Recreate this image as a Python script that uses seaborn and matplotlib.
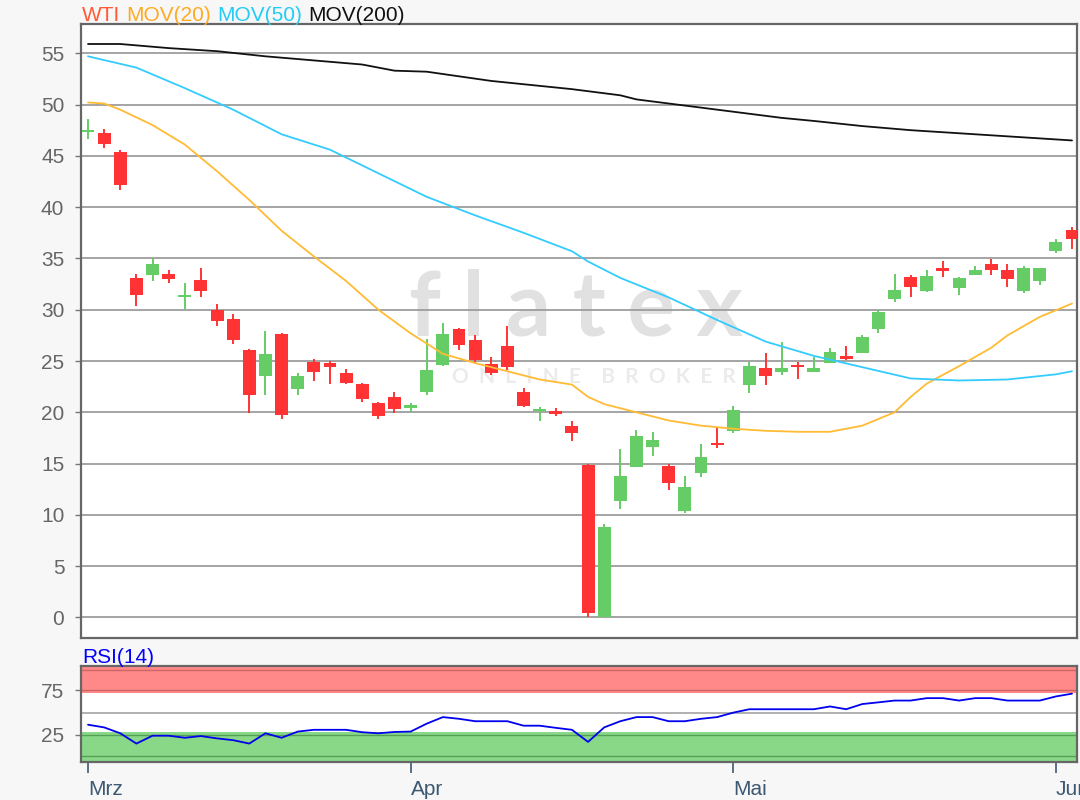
import matplotlib
matplotlib.use("Agg")
from matplotlib import pyplot as plt
import seaborn as sns
import pandas as pd

# candles, one per trading day (index 0 = first day of March)
opens = [47.3, 47.2, 45.4, 33.1, 33.4, 33.5, 31.2, 32.9, 30.0, 29.1,
         26.1, 23.5, 27.6, 22.3, 24.9, 24.8, 23.8, 22.8, 20.9, 21.5,
         20.4, 22.0, 24.6, 28.1, 27.0, 24.7, 26.5, 22.0, 20.1, 20.1,
         18.7, 14.9, 0.0, 11.4, 14.7, 16.6, 14.8, 10.4, 14.1, 17.0,
         18.2, 22.7, 24.3, 23.9, 24.6, 23.9, 24.8, 25.5, 25.8, 28.1,
         31.0, 33.2, 31.8, 34.1, 32.1, 33.4, 34.5, 33.9, 31.8, 32.8,
         35.7, 37.8]
highs = [48.6, 47.6, 45.6, 33.5, 35.0, 33.9, 32.6, 34.1, 30.6, 29.6,
         26.2, 27.9, 27.7, 23.8, 25.2, 25.0, 24.2, 22.9, 21.0, 22.0,
         20.9, 27.1, 28.7, 28.2, 27.5, 25.4, 28.4, 22.4, 20.5, 20.4,
         19.2, 15.0, 9.1, 16.4, 18.3, 18.1, 15.0, 13.8, 16.9, 18.6,
         20.6, 24.9, 25.8, 26.9, 24.9, 25.4, 26.3, 26.5, 27.5, 30.0,
         33.5, 33.4, 33.9, 34.7, 33.2, 34.3, 34.9, 34.5, 34.3, 34.1,
         36.9, 38.1]
lows = [46.6, 45.8, 41.7, 30.4, 32.8, 32.6, 30.1, 31.2, 28.4, 26.7,
        19.9, 21.7, 19.3, 21.7, 23.1, 22.8, 22.8, 21.0, 19.3, 19.9,
        20.0, 21.7, 24.5, 26.1, 24.8, 23.6, 24.1, 20.5, 19.2, 19.6,
        17.2, 0.0, 0.0, 10.6, 14.7, 15.7, 12.4, 10.2, 13.7, 16.5,
        18.0, 21.9, 22.7, 23.6, 23.2, 23.9, 24.8, 25.1, 25.8, 27.7,
        30.8, 31.2, 31.7, 33.2, 31.4, 33.4, 33.4, 32.2, 31.6, 32.4,
        35.5, 35.9]
closes = [47.5, 46.2, 42.2, 31.4, 34.5, 33.0, 31.4, 31.8, 28.9, 27.0,
          21.7, 25.7, 19.7, 23.5, 23.9, 24.4, 22.9, 21.3, 19.6, 20.3,
          20.7, 24.1, 27.6, 26.6, 25.1, 23.8, 24.4, 20.6, 20.3, 19.8,
          18.0, 0.4, 8.8, 13.8, 17.7, 17.3, 13.1, 12.7, 15.6, 16.8,
          20.2, 24.5, 23.5, 24.3, 24.4, 24.3, 25.9, 25.2, 27.3, 29.8,
          31.9, 32.2, 33.3, 33.8, 33.1, 33.9, 33.9, 33.0, 34.1, 34.1,
          36.6, 36.9]

# moving averages at some of the days
ma20_day = [0, 1, 2, 4, 6, 8, 10, 12, 14, 16, 18, 20, 22, 24, 26, 28, 30, 31,
            32, 34, 36, 38, 40, 42, 44, 46, 48, 50, 51, 52, 54, 56, 57, 59, 61]
ma20 = [50.2, 50.1, 49.5, 48.0, 46.1, 43.5, 40.7, 37.7, 35.2, 32.8, 30.0, 27.7,
        25.7, 24.8, 24.0, 23.2, 22.7, 21.5, 20.8, 20.0, 19.2, 18.7, 18.4, 18.2,
        18.1, 18.1, 18.7, 20.0, 21.5, 22.8, 24.5, 26.3, 27.5, 29.3, 30.6]
ma50_day = [0, 3, 6, 9, 12, 15, 18, 21, 24, 27, 30, 31, 33, 36, 39, 42, 45,
            48, 51, 54, 57, 60, 61]
ma50 = [54.7, 53.6, 51.6, 49.5, 47.1, 45.6, 43.3, 41.0, 39.2, 37.5, 35.7, 34.7,
        33.1, 31.2, 29.0, 26.9, 25.5, 24.4, 23.3, 23.1, 23.2, 23.7, 24.0]
ma200_day = [0, 2, 5, 8, 11, 14, 17, 19, 21, 25, 30, 33, 34, 37, 40, 43, 45,
             48, 51, 54, 57, 61]
ma200 = [55.9, 55.9, 55.5, 55.2, 54.7, 54.3, 53.9, 53.3, 53.2, 52.3, 51.5, 50.9,
         50.5, 49.9, 49.3, 48.7, 48.4, 47.9, 47.5, 47.2, 46.9, 46.5]

rsi = [36.5, 33.5, 26.9, 15.4, 24.2, 24.2, 21.9, 23.8, 21.2, 19.2,
       15.4, 26.9, 21.9, 28.8, 30.8, 30.8, 30.8, 28.1, 26.9, 28.4,
       28.8, 37.7, 45.0, 43.1, 40.4, 40.4, 40.4, 35.4, 35.4, 33.0,
       30.8, 17.3, 33.5, 40.4, 45.0, 45.0, 40.4, 40.4, 43.1, 45.0,
       50.0, 53.8, 53.8, 53.8, 53.8, 53.8, 56.9, 53.8, 59.6, 61.5,
       63.5, 63.5, 66.2, 66.2, 63.5, 66.2, 66.2, 63.5, 63.5, 63.5,
       68.1, 71.2]

month_days = [0, 20, 40, 60]
month_labels = ["Mrz", "Apr", "Mai", "Jun"]
price_ticks = list(range(0, 60, 5))

UP = "#66cc66"
DOWN = "#ff3333"
TEXT_FONT = ["Liberation Sans", "DejaVu Sans"]

sns.set_style("white")
plt.rcParams["font.family"] = TEXT_FONT

df = pd.DataFrame({"open": opens, "high": highs, "low": lows, "close": closes})
df["day"] = range(len(df))
df["up"] = df["close"] >= df["open"]
df["color"] = df["up"].map({True: UP, False: DOWN})

fig = plt.figure(figsize=(10.8, 8), dpi=100, facecolor="#f7f7f7")
ax = fig.add_axes([81 / 1080, 1 - 637.6 / 800, 996 / 1080, 613.6 / 800])
ax_rsi = fig.add_axes([81 / 1080, 1 - 762 / 800, 996 / 1080, 96.5 / 800], sharex=ax)

# watermark, sits under the grid
ax.text(0.497, 0.535, "f l a t e x", transform=ax.transAxes, fontsize=64,
        family=["Lato", "DejaVu Sans"], fontweight="bold", color="#e1e1e1",
        ha="center", va="center", zorder=0.1)
ax.text(0.515, 0.425, "O  N  L  I  N  E    B  R  O  K  E  R", transform=ax.transAxes,
        fontsize=15, family=["Lato", "DejaVu Sans"], fontweight="bold",
        color="#ebebeb", ha="center", va="center", zorder=0.1)

# candles
ax.vlines(df["day"], df["low"], df["high"], colors=df["color"], lw=1.4, zorder=3)
body = (df["close"] - df["open"]).abs().clip(lower=0.15)
ax.bar(df["day"], body, bottom=df[["open", "close"]].min(axis=1), width=0.8,
       color=df["color"], linewidth=0, zorder=3)

sns.lineplot(x=ma20_day, y=ma20, ax=ax, color="#ffbb33", lw=1.3, zorder=4)
sns.lineplot(x=ma50_day, y=ma50, ax=ax, color="#33ccff", lw=1.3, zorder=4)
sns.lineplot(x=ma200_day, y=ma200, ax=ax, color="#111111", lw=1.3, zorder=4)

ax.set_xlim(-0.434, 61.31)
ax.set_ylim(-1.96, 57.85)
ax.set_yticks(price_ticks)
ax.set_axisbelow(True)
ax.yaxis.grid(True, color="#9d9d9d", lw=1.3)
ax.xaxis.grid(False)
ax.set_facecolor("white")
ax.tick_params(axis="y", direction="out", length=4, width=1, color="#777777",
               labelcolor="#666666", labelsize=15, pad=8, left=True)
ax.tick_params(axis="x", bottom=False, labelbottom=False)
for sp in ax.spines.values():
    sp.set_color("#666666")
    sp.set_linewidth(1.6)

# coloured title line: WTI MOV(20) MOV(50) MOV(200)
legend_items = [("WTI", "#ff5a36"), ("MOV(20)", "#ffaa22"),
                ("MOV(50)", "#22ccf5"), ("MOV(200)", "#111111")]
prev = None
for label, col in legend_items:
    if prev is None:
        prev = ax.annotate(label, xy=(0, 1), xycoords="axes fraction",
                           xytext=(1, 2.5), textcoords="offset points",
                           fontsize=15, color=col, ha="left", va="baseline")
    else:
        prev = ax.annotate(label, xy=(1, 0), xycoords=prev,
                           xytext=(4.2, 0), textcoords="offset points",
                           fontsize=15, color=col, ha="left", va="bottom")

# RSI panel
ax_rsi.set_facecolor("white")
ax_rsi.set_ylim(-5.2, 102.7)
ax_rsi.axhspan(72, 102.7, color="#ff8888", lw=0, zorder=0.3)
ax_rsi.axhspan(-5.2, 28, color="#88d888", lw=0, zorder=0.3)
for lvl, col in [(98, "#cc6666"), (75, "#cc6666"), (25, "#55a055"), (1.5, "#55a055")]:
    ax_rsi.axhline(lvl, color=col, lw=1, zorder=0.4)
ax_rsi.axhline(50, color="#aaaaaa", lw=1.3, zorder=0.4)
sns.lineplot(x=df["day"], y=rsi, ax=ax_rsi, color="#0000ee", lw=1.3, zorder=3)

ax_rsi.set_yticks([25, 75])
ax_rsi.set_xticks(month_days)
ax_rsi.set_xticklabels(month_labels, ha="left")
ax_rsi.set_xlabel("")
ax_rsi.set_ylabel("")
ax.set_xlabel("")
ax.set_ylabel("")
ax_rsi.tick_params(axis="y", direction="out", length=4, width=1, color="#777777",
                   labelcolor="#666666", labelsize=15, pad=8, left=True)
ax_rsi.tick_params(axis="x", direction="out", length=8, width=1.2, color="#3d5872",
                   labelcolor="#3d5872", labelsize=15, pad=5, bottom=True)
for sp in ax_rsi.spines.values():
    sp.set_color("#666666")
    sp.set_linewidth(1.6)
ax_rsi.annotate("RSI(14)", xy=(0, 1), xycoords="axes fraction", xytext=(1, 2),
                textcoords="offset points", fontsize=15, color="#0000ff",
                ha="left", va="baseline")

fig.savefig("out.png", dpi=100, facecolor=fig.get_facecolor())
